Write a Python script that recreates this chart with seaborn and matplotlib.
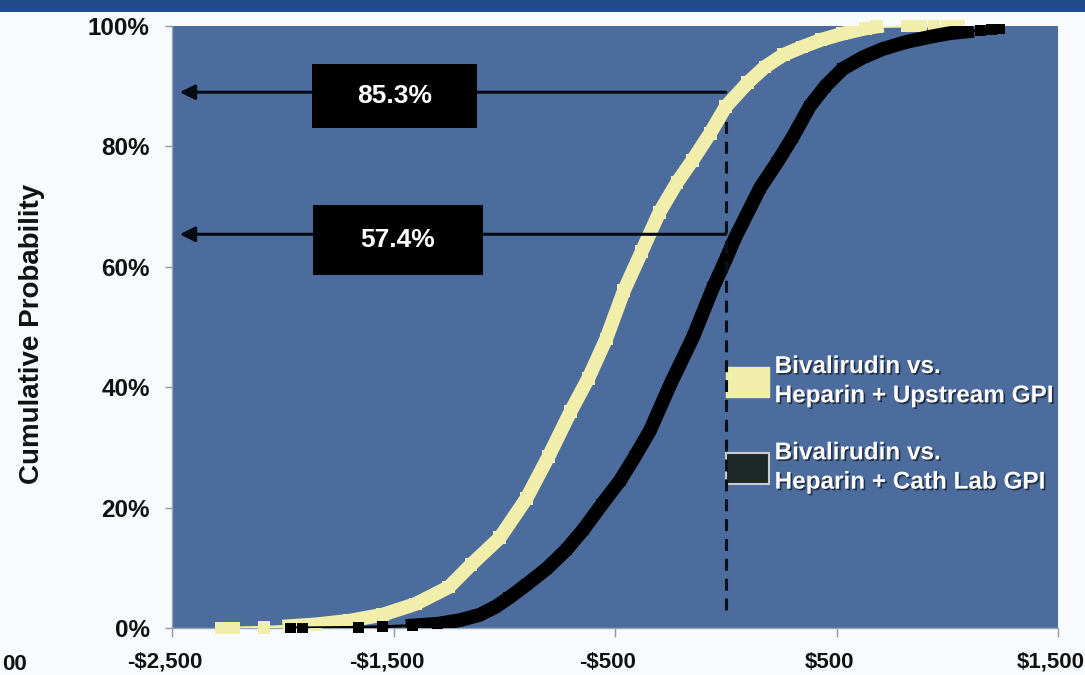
import numpy as np
import pandas as pd
import matplotlib
matplotlib.use("Agg")
import matplotlib.pyplot as plt
import matplotlib.patheffects as pe
from matplotlib.patches import Rectangle, Patch
from matplotlib.ticker import FuncFormatter, FixedLocator
from matplotlib.transforms import ScaledTranslation
import seaborn as sns

# ---------------- data ----------------
upstream_cost = [-2275, -2220, -2085, -1970, -1850, -1700, -1550, -1400, -1250, -1150,
                 -1020, -900, -800, -700, -620, -540, -460, -380, -300, -220,
                 -150, -70, 0, 100, 177, 260, 344, 430, 525, 630,
                 680, 820, 880, 940, 1000, 1050]
upstream_prob = [0.000, 0.000, 0.001, 0.003, 0.006, 0.012, 0.022, 0.040, 0.068, 0.105,
                 0.150, 0.215, 0.285, 0.360, 0.415, 0.480, 0.560, 0.625, 0.690, 0.740,
                 0.777, 0.822, 0.866, 0.906, 0.932, 0.952, 0.965, 0.977, 0.987, 0.996,
                 0.999, 1.000, 1.000, 1.000, 1.000, 1.000]

cathlab_cost = [-1967, -1910, -1660, -1550, -1413, -1300, -1200, -1110, -1040, -980,
                -900, -807, -720, -644, -560, -477, -410, -342, -250, -148,
                -58, 0, 42, 155, 231, 300, 380, 450, 529, 620,
                710, 820, 936, 1010, 1089, 1150, 1200, 1238]
cathlab_prob = [0.000, 0.000, 0.001, 0.002, 0.004, 0.007, 0.013, 0.022, 0.035, 0.050,
                0.072, 0.099, 0.130, 0.163, 0.205, 0.245, 0.285, 0.328, 0.405, 0.483,
                0.565, 0.612, 0.648, 0.731, 0.773, 0.814, 0.867, 0.900, 0.929, 0.948,
                0.962, 0.974, 0.983, 0.988, 0.991, 0.993, 0.994, 0.995]

series_names = ["Bivalirudin vs.\nHeparin + Upstream GPI",
                "Bivalirudin vs.\nHeparin + Cath Lab GPI"]
x_ticks = [-2500, -1500, -500, 500, 1500]
y_ticks = [0.0, 0.2, 0.4, 0.6, 0.8, 1.0]
callout_labels = ["85.3%", "57.4%"]
threshold_cost = 0
y_label = "Cumulative Probability"
edge_fragment = "00"

# ---------------- styling / positions ----------------
W, H = 1085, 675
BG_FIG = "#f8fbfd"
BG_AX = "#4b6c9c"
YELLOW = "#f0eeaa"
BLACK = "#000000"
LEG_DARK = "#1f2829"
band_ranges = [(-2000, 700), (-1420, 1100)]
marker_sizes = [85, 62]
callout_levels = [0.890, 0.654]
callout_boxes = [(-1868, 0.830, 745, 0.107), (-1863, 0.587, 767, 0.115)]
arrow_tip = -2465

sns.set_theme(style="white")
plt.rcParams['font.family'] = ['Liberation Sans', 'DejaVu Sans']
plt.rcParams['font.weight'] = 'bold'

df = pd.concat([
    pd.DataFrame({"cost": upstream_cost, "prob": upstream_prob, "series": series_names[0]}),
    pd.DataFrame({"cost": cathlab_cost, "prob": cathlab_prob, "series": series_names[1]}),
], ignore_index=True)

fig = plt.figure(figsize=(W / 100, H / 100), dpi=100, facecolor=BG_FIG)
# top band
fig.patches.append(Rectangle((0, 1 - 12 / H), 1, 12 / H, transform=fig.transFigure,
                             facecolor="#1f4b8b", edgecolor="none", zorder=0))

ax = fig.add_axes([172 / W, 1 - 628 / H, 886 / W, 602 / H])
ax.set_facecolor(BG_AX)

colors = [YELLOW, BLACK]
for i, name in enumerate(series_names):
    sub = df[df.series == name]
    lo, hi = band_ranges[i]
    band = sub[(sub.cost >= lo) & (sub.cost <= hi)]
    sns.lineplot(data=sub, x="cost", y="prob", color=colors[i], lw=2.2,
                 sort=False, estimator=None, ax=ax, legend=False, zorder=3 + i)
    sns.lineplot(data=band, x="cost", y="prob", color=colors[i], lw=10,
                 sort=False, estimator=None, ax=ax, legend=False, zorder=3 + i,
                 solid_capstyle="projecting", solid_joinstyle="round")
    sns.scatterplot(data=sub, x="cost", y="prob", color=colors[i], marker="s",
                    s=marker_sizes[i], edgecolor="none", linewidth=0, ax=ax,
                    legend=False, zorder=3 + i, clip_on=False)

ax.set_xlim(-2500, 1500)
ax.set_ylim(0, 1.0)
ax.xaxis.set_major_locator(FixedLocator(x_ticks))
ax.yaxis.set_major_locator(FixedLocator(y_ticks))
ax.xaxis.set_major_formatter(FuncFormatter(
    lambda v, p: f"-${abs(v):,.0f}" if v < 0 else f"${v:,.0f}"))
ax.yaxis.set_major_formatter(FuncFormatter(lambda v, p: f"{v * 100:.0f}%"))
ax.tick_params(axis="x", direction="out", length=6.5, width=1, color="#8f99a8",
               pad=10.5, labelsize=16, labelcolor="#111111", bottom=True)
ax.tick_params(axis="y", direction="out", length=5, width=1, color="#8f99a8",
               pad=11, labelsize=17.5, labelcolor="#111111", left=True)
for lab in ax.get_xticklabels():
    lab.set_fontweight("bold")
    lab.set_transform(lab.get_transform() + ScaledTranslation(-7 / 100, 0, fig.dpi_scale_trans))
for lab in ax.get_yticklabels():
    lab.set_fontweight("bold")

for s in ["top", "right"]:
    ax.spines[s].set_visible(False)
for s in ["left", "bottom"]:
    ax.spines[s].set_color("#9aa6b6")
    ax.spines[s].set_linewidth(1)

ax.set_xlabel("")
ax.set_ylabel(y_label, fontsize=20, fontweight="bold", color="#111111")
ax.yaxis.set_label_coords((45 - 172) / 886, 0.489)

# dashed reference line at $0
ax.vlines(threshold_cost, 0.03, 0.85, colors="#0a0f1e", linestyles=(0, (3.9, 2.6)),
          lw=2.2, zorder=6)

# callouts
for lvl, box, txt in zip(callout_levels, callout_boxes, callout_labels):
    ax.annotate("", xy=(arrow_tip, lvl), xytext=(threshold_cost, lvl),
                arrowprops=dict(arrowstyle="-|>,head_length=0.5,head_width=0.25",
                                color="#050a14", lw=2.2, mutation_scale=18,
                                shrinkA=0, shrinkB=0), zorder=7)
    x0, y0, w, h = box
    ax.add_patch(Rectangle((x0, y0), w, h, facecolor="black", edgecolor="none", zorder=8))
    ax.text(x0 + w / 2, y0 + h / 2, txt, color="white", fontsize=19, fontweight="bold",
            ha="center", va="center", zorder=9)

# legend
handles = [Patch(facecolor=YELLOW, edgecolor=YELLOW),
           Patch(facecolor=LEG_DARK, edgecolor="#c8ccd0", linewidth=1.5)]
leg = ax.legend(handles, series_names, loc="upper left",
                bbox_to_anchor=((726 - 172) / 886, (628 - 355) / 602),
                frameon=False, fontsize=17.5, labelcolor="white",
                handlelength=1.75, handleheight=1.55, handletextpad=0.25,
                labelspacing=1.4, borderpad=0, borderaxespad=0)
for t in leg.get_texts():
    t.set_fontweight("bold")
    t.set_linespacing(1.35)
    t.set_path_effects([pe.withSimplePatchShadow(offset=(1.2, -1.2),
                                                 shadow_rgbFace="#1a2030", alpha=0.8)])

# fragment of a cut-off tick label at the left edge of the slide
fig.text(2 / W, 1 - 664 / H, edge_fragment, ha="left", va="center", fontsize=16,
         fontweight="bold", color="#111111")

fig.savefig("out.png", dpi=100, facecolor=BG_FIG)
